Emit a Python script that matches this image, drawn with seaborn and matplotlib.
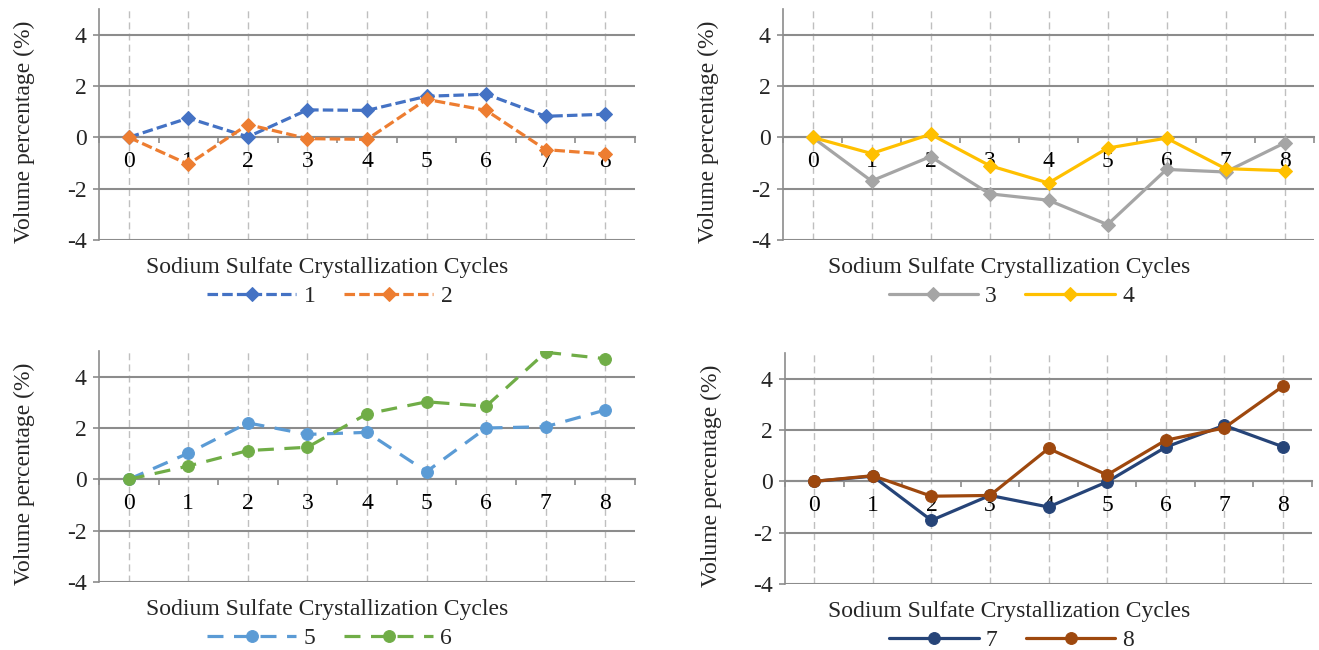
import matplotlib
matplotlib.use("Agg")
import matplotlib.pyplot as plt
import numpy as np
import pandas as pd
import seaborn as sns
from matplotlib.ticker import FixedLocator

sns.set_theme(style="white")
plt.rcParams['font.family'] = ['Liberation Serif', 'DejaVu Serif']

cycles = [0, 1, 2, 3, 4, 5, 6, 7, 8]

s1 = [0, 0.75, 0.02, 1.07, 1.05, 1.60, 1.68, 0.82, 0.90]
s2 = [0, -1.05, 0.50, -0.05, -0.08, 1.48, 1.05, -0.48, -0.65]
s3 = [0, -1.70, -0.75, -2.20, -2.45, -3.40, -1.25, -1.35, -0.22]
s4 = [0, -0.63, 0.12, -1.10, -1.78, -0.42, -0.03, -1.22, -1.30]
s5 = [0, 1.02, 2.20, 1.75, 1.83, 0.30, 2.00, 2.05, 2.70]
s6 = [0, 0.52, 1.12, 1.25, 2.55, 3.02, 2.85, 4.95, 4.70]
s7 = [0, 0.20, -1.52, -0.55, -1.00, -0.02, 1.33, 2.18, 1.35]
s8 = [0, 0.22, -0.58, -0.55, 1.28, 0.25, 1.60, 2.08, 3.70]

yticks = [-4, -2, 0, 2, 4]
xlab = 'Sodium Sulfate Crystallization Cycles'
ylab = 'Volume percentage (%)'

short_dash = (0, (3.3, 1.3))
long_dash = (0, (5, 3.3))

# axes rect in pixels (left, top, width, height) and its series
panels = [
    ([99, 9, 536, 231], [('1', s1, '#4472C4', 'D', short_dash), ('2', s2, '#ED7D31', 'D', short_dash)]),
    ([783, 9, 531, 231], [('3', s3, '#A5A5A5', 'D', '-'), ('4', s4, '#FFC000', 'D', '-')]),
    ([99, 351, 536, 231], [('5', s5, '#5B9BD5', 'o', long_dash), ('6', s6, '#70AD47', 'o', long_dash)]),
    ([785, 353, 527, 231], [('7', s7, '#264478', 'o', '-'), ('8', s8, '#9E480E', 'o', '-')]),
]

W, H = 1319, 650
fig = plt.figure(figsize=(W / 100, H / 100), dpi=100)
grid_col = '#8C8C8C'
fs = 17

for rect, series in panels:
    l, t, w, h = rect
    ax = fig.add_axes([l / W, 1 - (t + h) / H, w / W, h / H])
    for name, vals, col, mk, ls in series:
        ms = 7.5 if mk == 'D' else 8.5
        sns.lineplot(x=cycles, y=vals, ax=ax, color=col, marker=mk, markersize=ms,
                     markeredgecolor=col, linewidth=2.3, linestyle=ls, label=name, zorder=3)

    ax.set_xlim(-0.5, 8.5)
    ax.set_ylim(-4, 5)
    ax.set_yticks(yticks)
    ax.set_yticklabels([str(v) for v in yticks])
    ax.set_xticks(cycles)
    ax.set_xticklabels([str(c) for c in cycles])
    ax.xaxis.set_minor_locator(FixedLocator(np.arange(-0.5, 9, 1)))

    for sp in ['top', 'right']:
        ax.spines[sp].set_visible(False)
    ax.spines['bottom'].set_position(('data', 0))
    ax.spines['bottom'].set_color(grid_col)
    ax.spines['bottom'].set_linewidth(1.5)
    ax.spines['left'].set_color(grid_col)
    ax.spines['left'].set_linewidth(1.2)

    ax.tick_params(axis='x', which='major', length=0, pad=10, labelsize=fs, colors='black')
    ax.tick_params(axis='x', which='minor', length=4, width=1.2, color=grid_col, direction='out', bottom=True)
    ax.tick_params(axis='y', which='major', length=4, width=1.2, color=grid_col, pad=5, labelsize=fs, left=True)

    ax.yaxis.grid(True, color=grid_col, linewidth=1.5, linestyle='-')
    ax.xaxis.grid(True, color='#BFBFBF', linewidth=1, linestyle=(0, (5, 3)))
    ax.set_axisbelow(True)

    ax.set_xlabel(xlab, fontsize=fs)
    ax.xaxis.set_label_coords(0.425, -0.118)
    ax.xaxis.label.set_va('center')
    ax.set_ylabel(ylab, fontsize=fs)
    ax.yaxis.set_label_coords(-0.14, 0.47)
    ax.yaxis.label.set_va('center')

    ax.legend(loc='center', bbox_to_anchor=(0.43, -0.245), ncol=2, frameon=False,
              fontsize=fs, handlelength=3.8, handletextpad=0.3, columnspacing=1.2,
              borderaxespad=0, borderpad=0)

fig.savefig('out.png', dpi=100)
